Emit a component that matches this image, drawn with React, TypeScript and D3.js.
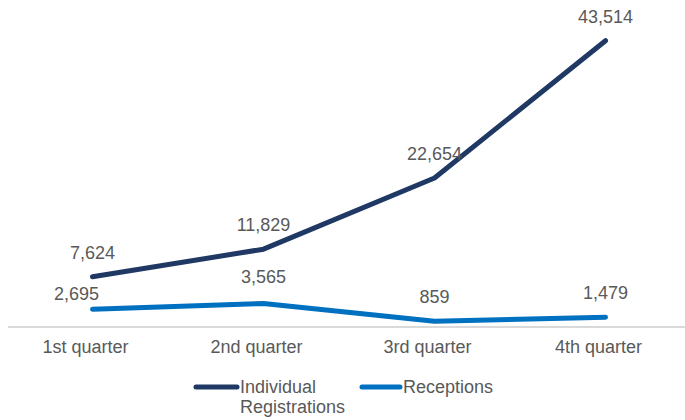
import React from "react";
import * as d3 from "d3";

const categories = ["1st quarter", "2nd quarter", "3rd quarter", "4th quarter"];
const seriesNames = ["Individual Registrations", "Receptions"];
const individualRegistrations = [7624, 11829, 22654, 43514];
const receptions = [2695, 3565, 859, 1479];

const W = 685;
const H = 420;
const COLORS = ["#1f3864", "#0070c0"];
const TEXT = "#595959";
const FONT = "'Liberation Sans', Arial, sans-serif";
const FS = 18;

export default function App() {
  const x = d3.scaleBand<string>().domain(categories).range([7, 691]);
  const cx = (c: string) => (x(c) as number) + x.bandwidth() / 2;
  const y = d3.scaleLinear().domain([0, 50000]).range([327, -2]);
  const line = d3
    .line<number>()
    .x((_, i) => cx(categories[i]))
    .y((d) => y(d));
  const series = [individualRegistrations, receptions];
  const fmt = d3.format(",");
  const labelOffset = (s: number, i: number): [number, number] =>
    s === 1 && i === 0 ? [-16, -9] : s === 1 && i === 1 ? [0, -21] : [0, -18];

  return (
    <svg
      width={W}
      height={H}
      style={{ position: "absolute", left: 0, top: 0, background: "#fff" }}
      fontFamily={FONT}
    >
      <line x1={8} x2={685} y1={y(0)} y2={y(0)} stroke="#d9d9d9" strokeWidth={2} />
      {categories.map((c) => (
        <text key={c} x={cx(c) - 7} y={353} textAnchor="middle" fontSize={FS} fill={TEXT}>
          {c}
        </text>
      ))}
      {series.map((vals, s) => (
        <path
          key={s}
          d={line(vals) || ""}
          fill="none"
          stroke={COLORS[s]}
          strokeWidth={5}
          strokeLinecap="round"
          strokeLinejoin="round"
        />
      ))}
      {series.map((vals, s) =>
        vals.map((v, i) => {
          const [dx, dy] = labelOffset(s, i);
          return (
            <text
              key={`${s}-${i}`}
              x={cx(categories[i]) + dx}
              y={y(v) + dy}
              textAnchor="middle"
              fontSize={FS}
              fill={TEXT}
            >
              {fmt(v)}
            </text>
          );
        })
      )}
      <g>
        <line x1={196} x2={237} y1={387} y2={387} stroke={COLORS[0]} strokeWidth={5} strokeLinecap="round" />
        <text x={240} y={393} fontSize={FS} fill={TEXT}>
          <tspan x={240}>{seriesNames[0].split(" ")[0]}</tspan>
          <tspan x={240} dy={20}>{seriesNames[0].split(" ")[1]}</tspan>
        </text>
        <line x1={362} x2={400} y1={387} y2={387} stroke={COLORS[1]} strokeWidth={5} strokeLinecap="round" />
        <text x={403} y={393} fontSize={FS} fill={TEXT}>
          {seriesNames[1]}
        </text>
      </g>
    </svg>
  );
}
